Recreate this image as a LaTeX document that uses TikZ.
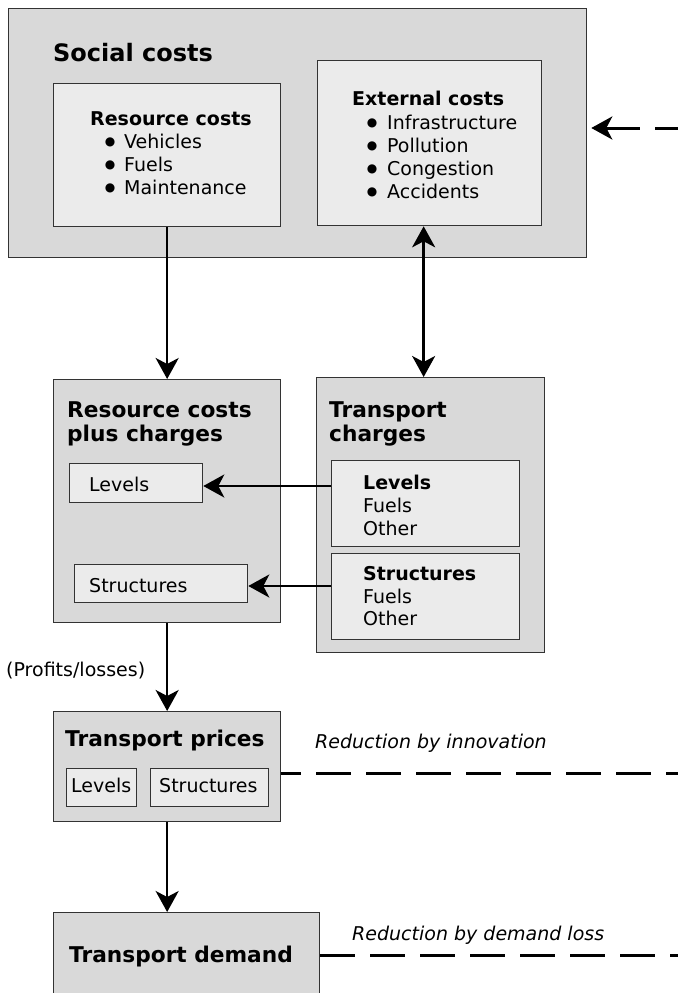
\documentclass[tikz,border=0pt]{standalone}
\usepackage{fontspec}
\setmainfont{DejaVu Sans}
\usetikzlibrary{arrows.meta,positioning}

\begin{document}
\begin{tikzpicture}[
                    x=1pt, y=-1pt,
                    >={Stealth[length=21pt,width=23pt,inset=6pt]},
                    outer/.style={draw=black!80, line width=1.3pt, fill=black!15, anchor=north west, inner sep=0},
                    inner/.style={draw=black!80, line width=1.3pt, fill=black!8, anchor=north west, inner sep=0},
                    big/.style={font=\fontsize{24}{28}\selectfont\bfseries, inner sep=0, anchor=base west},
                    head/.style={font=\fontsize{21.7}{24}\selectfont\bfseries, inner sep=0, anchor=base west},
                    sub/.style={font=\fontsize{19}{22}\selectfont\bfseries, inner sep=0, anchor=base west},
                    txt/.style={font=\fontsize{19}{22}\selectfont, inner sep=0, anchor=base west},
                    dot/.style={font=\fontsize{12}{14}\selectfont, inner sep=0, anchor=base, yshift=2.6pt},
                    note/.style={font=\fontsize{19}{22}\selectfont\itshape, inner sep=0, anchor=base west},
                    flow/.style={->, line width=2.6pt},
                    loss/.style={line width=3pt, dash pattern=on 35pt off 15pt}]

                \clip (0,0) rectangle (678,993);

                % social costs
                \draw(8,8) node[outer, minimum width=578, minimum height=249] (social) {};
                \draw(53,61) node[big] (soc) {Social costs};
                \draw(53,83) node[inner, minimum width=227, minimum height=143] (rescost) {};
                \draw(90,125) node[sub] (rch) {Resource costs};
                \foreach \t [count=\i] in {Vehicles,Fuels,Maintenance}{
                    \draw(124,{125+23*\i}) node[txt] (rc\i) {\t};
                    \draw(rc\i.base west) ++(-14,0) node[dot] (rb\i) {\symbol{"25CF}};
                }
                \draw(317,60) node[inner, minimum width=224, minimum height=165] (ext) {};
                \draw(352,105) node[sub] (exh) {External costs};
                \foreach \t [count=\i] in {Infrastructure,Pollution,Congestion,Accidents}{
                    \draw(387,{106+23*\i}) node[txt] (ex\i) {\t};
                    \draw(ex\i.base west) ++(-15,0) node[dot] (eb\i) {\symbol{"25CF}};
                }

                % resource costs plus charges
                \draw(53,379) node[outer, minimum width=227, minimum height=243] (plus) {};
                \draw(67,417) node[head] (plh1) {Resource costs};
                \draw(67,441) node[head] (plh2) {plus charges};
                \draw(69,463) node[inner, minimum width=133, minimum height=39] (levels) {};
                \draw(89,491) node[txt] (levt) {Levels};
                \draw(74,564) node[inner, minimum width=173, minimum height=38] (struct) {};
                \draw(89,592) node[txt] (strt) {Structures};

                % transport charges
                \draw(316,377) node[outer, minimum width=228, minimum height=275] (tch) {};
                \draw(329,417) node[head] (tch1) {Transport};
                \draw(329,441) node[head] (tch2) {charges};
                \draw(331,460) node[inner, minimum width=188, minimum height=86] (lvsub) {};
                \draw(363,489) node[sub] (lv1) {Levels};
                \draw(363,512) node[txt] (lv2) {Fuels};
                \draw(363,535) node[txt] (lv3) {Other};
                \draw(331,553) node[inner, minimum width=188, minimum height=86] (stsub) {};
                \draw(363,580) node[sub] (st1) {Structures};
                \draw(363,603) node[txt] (st2) {Fuels};
                \draw(363,625) node[txt] (st3) {Other};

                % prices and demand
                \draw(6,676) node[txt] (pl) {(Profits/losses)};
                \draw(53,711) node[outer, minimum width=227, minimum height=110] (prices) {};
                \draw(65,746) node[head] (prh) {Transport prices};
                \draw(66,768) node[inner, minimum width=70, minimum height=38] (prlev) {};
                \draw(71,792) node[txt] (prlevt) {Levels};
                \draw(150,768) node[inner, minimum width=118, minimum height=38] (prstr) {};
                \draw(159,792) node[txt] (prstrt) {Structures};
                \draw(53,912) node[outer, minimum width=266, minimum height=110] (demand) {};
                \draw(69,962) node[head] (dmh) {Transport demand};

                \draw(315,748) node[note] (inn) {Reduction by innovation};
                \draw(352,940) node[note] (dml) {Reduction by demand loss};

                \coordinate (fb) at (678,128);
                \coordinate (in) at (678,773);
                \coordinate (dl) at (678,955);

                % connectors
                \draw[flow] (rescost.south) -- (plus.north);
                \draw[flow, <->] ([xshift=-6pt]ext.south) -- ([xshift=-6pt]ext.south |- tch.north);
                \draw[flow] (lvsub.west |- 0,486) -- (levels.east |- 0,486);
                \draw[flow] (stsub.west |- 0,586) -- (struct.east |- 0,586);
                \draw[flow] (plus.south) -- (prices.north);
                \draw[flow] (prices.south) -- (prices.south |- demand.north);
                \draw[loss, <-, shorten <=4pt] (social.east |- fb) -- (fb);
                \draw[loss, dash phase=15pt] (prices.east |- in) -- (in);
                \draw[loss] (demand.east |- dl) -- (dl);

            \end{tikzpicture}
\end{document}
